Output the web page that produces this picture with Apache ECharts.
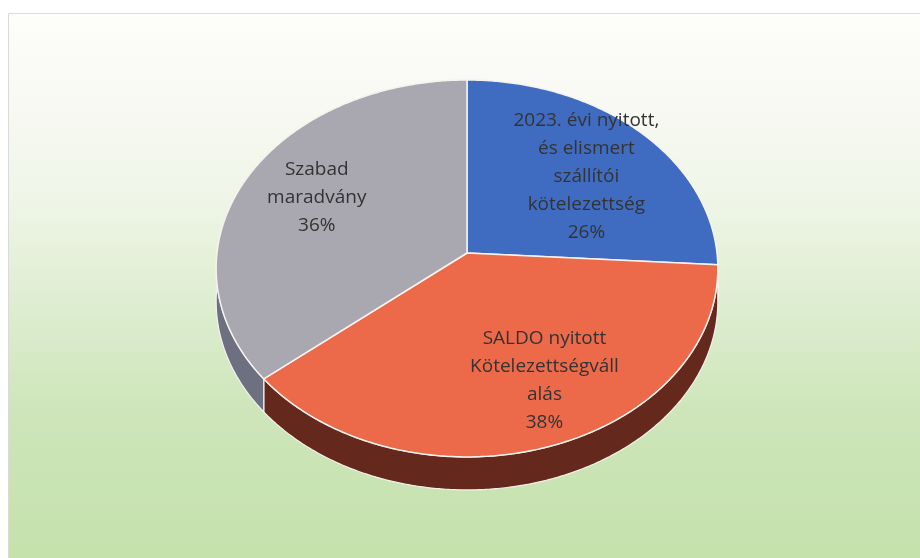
<!DOCTYPE html>
<html>
<head>
<meta charset="utf-8">
<script src="https://cdn.jsdelivr.net/npm/echarts@6/dist/echarts.min.js"></script>
<style>
  html, body { margin: 0; padding: 0; background: #ffffff; }
  #chart { width: 920px; height: 558px; }
</style>
</head>
<body>
<div id="chart"></div>
<script>
// Slice names (line breaks as they wrap inside the slices) and their shares
const categories = [
  '2023. évi nyitott,\nés elismert\nszállítói\nkötelezettség',
  'SALDO nyitott\nKötelezettségváll\nalás',
  'Szabad\nmaradvány'
];
const shares = [26, 38, 36];

// Top face and side wall colours per slice
const topColors = ['#3F6CC1', '#EC6A4A', '#A9A8B0'];
const sideColors = ['#243F78', '#64291C', '#6C7080'];

// Tilted disc: apex position, radii, perspective strength, wall height
const PIE = { cx: 467, cy: 253, rx: 250, ry: 187.2, persp: 0.082, depth: 33 };
// Label anchor (fraction of radius) and small per-slice nudges in px
const LABEL = { radius: 0.68, nudge: [[0, 8], [22, 0], [0, -2]] };

const total = shares.reduce((a, b) => a + b, 0);
const startAngles = [];
let acc = 0;
shares.forEach(v => { startAngles.push(acc / total * 360); acc += v; });

// Angle measured clockwise from 12 o'clock, f = fraction of the radius
function project(deg, f) {
  const t = deg * Math.PI / 180;
  const u = f * Math.sin(t);
  const w = -f * Math.cos(t);
  const s = 1 / (1 - PIE.persp * w);
  return [PIE.cx + PIE.rx * u * s, PIE.cy + PIE.ry * w * s];
}

function arcPoints(a0, a1, dy) {
  const pts = [];
  const n = Math.max(2, Math.ceil((a1 - a0) / 0.5));
  for (let i = 0; i <= n; i++) {
    const p = project(a0 + (a1 - a0) * i / n, 1);
    pts.push([p[0], p[1] + dy]);
  }
  return pts;
}

function sliceSpan(params, api) {
  const a0 = startAngles[params.dataIndex];
  const a1 = a0 + api.value(0) / total * 360;
  return [a0, a1];
}

function renderSide(params, api) {
  const [a0, a1] = sliceSpan(params, api);
  const top = arcPoints(a0, a1, 0);
  const bottom = arcPoints(a0, a1, PIE.depth).reverse();
  return {
    type: 'polygon',
    shape: { points: top.concat(bottom) },
    style: {
      fill: sideColors[params.dataIndex],
      stroke: '#F4F1EC',
      lineWidth: 1.2,
      lineJoin: 'round'
    }
  };
}

function renderTop(params, api) {
  const i = params.dataIndex;
  const [a0, a1] = sliceSpan(params, api);
  const pts = [[PIE.cx, PIE.cy]].concat(arcPoints(a0, a1, 0));
  const mid = (a0 + a1) / 2;
  const anchor = project(mid, LABEL.radius);
  const pct = Math.round(api.value(0) / total * 100) + '%';
  return {
    type: 'group',
    children: [
      {
        type: 'polygon',
        shape: { points: pts },
        style: {
          fill: topColors[i],
          stroke: '#F6F3EE',
          lineWidth: 1.5,
          lineJoin: 'round'
        }
      },
      {
        type: 'text',
        x: anchor[0] + LABEL.nudge[i][0],
        y: anchor[1] + LABEL.nudge[i][1],
        style: {
          text: categories[i] + '\n' + pct,
          fill: '#333333',
          font: '19px "Open Sans", "Liberation Sans", sans-serif',
          lineHeight: 28,
          align: 'center',
          verticalAlign: 'middle'
        }
      }
    ]
  };
}

const chart = echarts.init(document.getElementById('chart'), null, { renderer: 'canvas' });

chart.setOption({
  animation: false,
  graphic: [
    {
      type: 'rect',
      z: -10,
      shape: { x: 8.5, y: 13.5, width: 930, height: 560 },
      style: {
        fill: new echarts.graphic.LinearGradient(0, 0, 0, 1, [
          { offset: 0, color: '#FDFDFB' },
          { offset: 0.16, color: '#F8F9F3' },
          { offset: 0.34, color: '#EEF5E6' },
          { offset: 0.53, color: '#DDEDD0' },
          { offset: 0.72, color: '#CDE5B9' },
          { offset: 1, color: '#C4E1AA' }
        ]),
        stroke: '#DADADA',
        lineWidth: 1
      }
    }
  ],
  series: [
    {
      name: 'wall',
      type: 'custom',
      coordinateSystem: 'none',
      z: 2,
      data: shares.map(v => [v]),
      renderItem: renderSide
    },
    {
      name: 'face',
      type: 'custom',
      coordinateSystem: 'none',
      z: 3,
      data: shares.map(v => [v]),
      renderItem: renderTop
    }
  ]
});
</script>
</body>
</html>
